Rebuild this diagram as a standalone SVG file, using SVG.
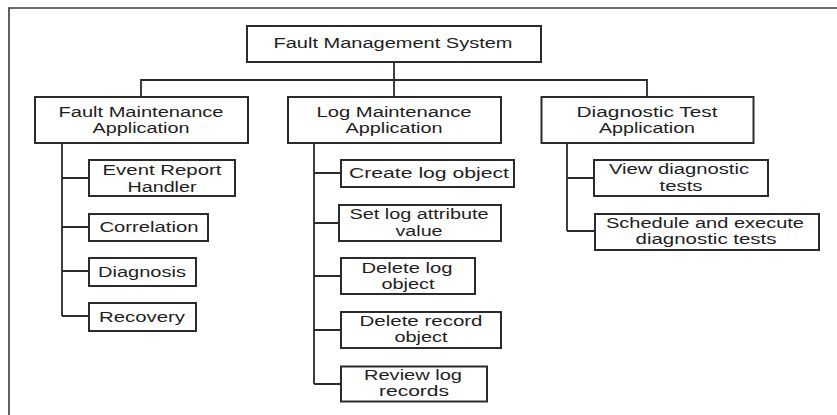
<svg xmlns="http://www.w3.org/2000/svg" width="837" height="415" viewBox="0 0 837 415">
  <style>
    .frame { fill: none; stroke: #3a3a3a; stroke-width: 1.6; }
    .box { fill: #ffffff; stroke: #2b2b2b; stroke-width: 2; }
    .link { fill: none; stroke: #2b2b2b; stroke-width: 1.8; }
    text { font-family: "Liberation Sans", Arial, sans-serif; font-size: 14px; fill: #1e1e1e; text-anchor: middle; }
  </style>
  <rect width="837" height="415" fill="#ffffff"/>
  <!-- page frame -->
  <path class="frame" d="M9,415 V8 H837"/>

  <!-- tree connectors -->
  <g id="connectors">
    <path class="link" d="M394,62 V97"/>
    <path class="link" d="M141,97 V80 H647 V97"/>
    <!-- fault maintenance branch -->
    <path class="link" d="M62,143 V316 M62,178 H89 M62,227 H89 M62,271 H89 M62,316 H89"/>
    <!-- log maintenance branch -->
    <path class="link" d="M314,143 V384 M314,173 H341 M314,223 H339 M314,276 H341 M314,330 H341 M314,384 H341"/>
    <!-- diagnostic test branch -->
    <path class="link" d="M567,143 V231 M567,178 H594 M567,231 H595"/>
  </g>

  <g id="fault-management-system">
    <rect class="box" x="247" y="26" width="294" height="36"/>
    <text x="393" y="48" textLength="239" lengthAdjust="spacingAndGlyphs">Fault Management System</text>
  </g>

  <g id="fault-maintenance-application">
    <rect class="box" x="35" y="97" width="213" height="46"/>
    <text x="141" y="116.5" textLength="165" lengthAdjust="spacingAndGlyphs">Fault Maintenance</text>
    <text x="141" y="132.5" textLength="97" lengthAdjust="spacingAndGlyphs">Application</text>
  </g>

  <g id="log-maintenance-application">
    <rect class="box" x="288" y="97" width="213" height="46"/>
    <text x="394" y="116.5" textLength="155" lengthAdjust="spacingAndGlyphs">Log Maintenance</text>
    <text x="394" y="132.5" textLength="97" lengthAdjust="spacingAndGlyphs">Application</text>
  </g>

  <g id="diagnostic-test-application">
    <rect class="box" x="541.5" y="97" width="212" height="46"/>
    <text x="647" y="116.5" textLength="141" lengthAdjust="spacingAndGlyphs">Diagnostic Test</text>
    <text x="647" y="132.5" textLength="96" lengthAdjust="spacingAndGlyphs">Application</text>
  </g>

  <g id="event-report-handler">
    <rect class="box" x="89" y="160" width="146" height="36"/>
    <text x="162" y="175" textLength="119" lengthAdjust="spacingAndGlyphs">Event Report</text>
    <text x="162" y="191.5" textLength="69" lengthAdjust="spacingAndGlyphs">Handler</text>
  </g>

  <g id="correlation">
    <rect class="box" x="89" y="214" width="119" height="27"/>
    <text x="149" y="231.5" textLength="99" lengthAdjust="spacingAndGlyphs">Correlation</text>
  </g>

  <g id="diagnosis">
    <rect class="box" x="89" y="258" width="107" height="28"/>
    <text x="142" y="276.5" textLength="88" lengthAdjust="spacingAndGlyphs">Diagnosis</text>
  </g>

  <g id="recovery">
    <rect class="box" x="89" y="303" width="107" height="28"/>
    <text x="142" y="321.5" textLength="86" lengthAdjust="spacingAndGlyphs">Recovery</text>
  </g>

  <g id="create-log-object">
    <rect class="box" x="341" y="160" width="173" height="27"/>
    <text x="429" y="177.5" textLength="160" lengthAdjust="spacingAndGlyphs">Create log object</text>
  </g>

  <g id="set-log-attribute-value">
    <rect class="box" x="339" y="205" width="162" height="36"/>
    <text x="419" y="219" textLength="139" lengthAdjust="spacingAndGlyphs">Set log attribute</text>
    <text x="419" y="235.5" textLength="47" lengthAdjust="spacingAndGlyphs">value</text>
  </g>

  <g id="delete-log-object">
    <rect class="box" x="341" y="258" width="134" height="36"/>
    <text x="407" y="272.5" textLength="91" lengthAdjust="spacingAndGlyphs">Delete log</text>
    <text x="408" y="288.5" textLength="53" lengthAdjust="spacingAndGlyphs">object</text>
  </g>

  <g id="delete-record-object">
    <rect class="box" x="341" y="312" width="160" height="36"/>
    <text x="421" y="326" textLength="123" lengthAdjust="spacingAndGlyphs">Delete record</text>
    <text x="421" y="342" textLength="53" lengthAdjust="spacingAndGlyphs">object</text>
  </g>

  <g id="review-log-records">
    <rect class="box" x="341" y="366.5" width="146" height="35"/>
    <text x="413" y="379.5" textLength="98" lengthAdjust="spacingAndGlyphs">Review log</text>
    <text x="414" y="395.5" textLength="70" lengthAdjust="spacingAndGlyphs">records</text>
  </g>

  <g id="view-diagnostic-tests">
    <rect class="box" x="594" y="160" width="174" height="36"/>
    <text x="679" y="174" textLength="140" lengthAdjust="spacingAndGlyphs">View diagnostic</text>
    <text x="681" y="190.5" textLength="43" lengthAdjust="spacingAndGlyphs">tests</text>
  </g>

  <g id="schedule-and-execute-diagnostic-tests">
    <rect class="box" x="595" y="214" width="224" height="36"/>
    <text x="705" y="227.5" textLength="198" lengthAdjust="spacingAndGlyphs">Schedule and execute</text>
    <text x="706" y="244" textLength="141" lengthAdjust="spacingAndGlyphs">diagnostic tests</text>
  </g>
</svg>
